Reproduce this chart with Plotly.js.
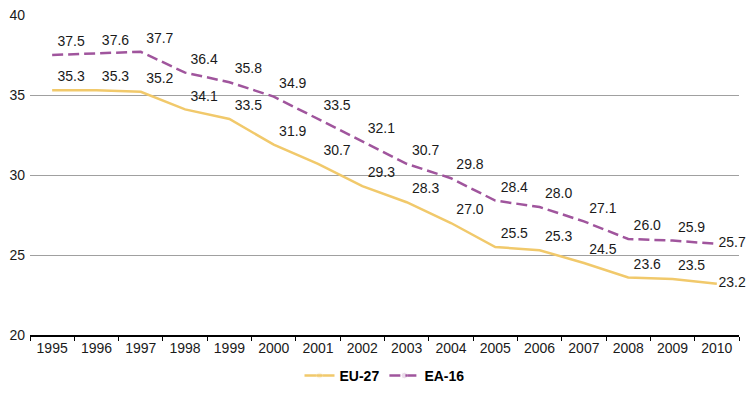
<!DOCTYPE html>
<html><head><meta charset="utf-8">
<script src="https://cdn.plot.ly/plotly-3.0.1.min.js"></script>
<style>html,body{margin:0;padding:0;background:#fff}#chart{width:755px;height:398px}</style>
</head><body><div id="chart"></div>
<script>
const years = ['1995','1996','1997','1998','1999','2000','2001','2002','2003','2004','2005','2006','2007','2008','2009','2010'];
const eu27 = [35.3,35.3,35.2,34.1,33.5,31.9,30.7,29.3,28.3,27.0,25.5,25.3,24.5,23.6,23.5,23.2];
const ea16 = [37.5,37.6,37.7,36.4,35.8,34.9,33.5,32.1,30.7,29.8,28.4,28.0,27.1,26.0,25.9,25.7];

const font = {family:'Liberation Sans, Arial, sans-serif', size:14, color:'#1a1a1a'};
const last = years.length-1;
const pos = years.map((y,i)=> i===last ? 'middle right' : 'top right');
const msize = years.map((y,i)=> i===last ? 1 : 7);

const traces = [
  {x:years, y:eu27, name:'EU-27', type:'scatter', mode:'lines+markers+text',
   line:{color:'#F1C96B', width:2.5}, marker:{size:msize, opacity:0},
   text:eu27.map(v=>v.toFixed(1)), textposition:pos, textfont:font, cliponaxis:false},
  {x:years, y:ea16, name:'EA-16', type:'scatter', mode:'lines+markers+text',
   line:{color:'#A0559D', width:2.5, dash:'11px,5px'}, marker:{size:msize, opacity:0},
   text:ea16.map(v=>v.toFixed(1)), textposition:pos, textfont:font, cliponaxis:false}
];

const layout = {
  width:755, height:398,
  margin:{l:30, r:16, t:15, b:63, autoexpand:false},
  paper_bgcolor:'#fff', plot_bgcolor:'#fff',
  font:font,
  showlegend:true,
  legend:{orientation:'h', x:0.5, xanchor:'center', y:-0.128, yanchor:'middle',
          font:{family:'Liberation Sans, Arial, sans-serif', size:14, color:'#000', weight:'bold'}},
  xaxis:{type:'category', range:[-0.5,15.5], showgrid:false, showline:true, linecolor:'#000', linewidth:1.5,
         ticks:'outside', tickson:'boundaries', ticklen:4, tickcolor:'#000', tickfont:font, fixedrange:true},
  yaxis:{range:[20,40], dtick:5, showgrid:true, gridcolor:'#a0a0a0', gridwidth:1, zeroline:false,
         showline:false, ticks:'', tickfont:font, ticklabelstandoff:4}
};
Plotly.newPlot('chart', traces, layout, {displayModeBar:false, staticPlot:true});
</script></body></html>
